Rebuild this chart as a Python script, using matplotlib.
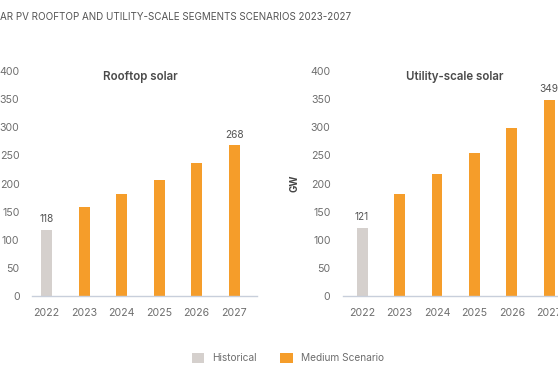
import matplotlib
matplotlib.use("Agg")
import matplotlib.pyplot as plt
from matplotlib.patches import Patch

plt.rcParams['font.family'] = ['Inter', 'DejaVu Sans']

years = ['2022', '2023', '2024', '2025', '2026', '2027']
rooftop = [118, 159, 182, 207, 236, 268]
utility = [121, 181, 217, 255, 299, 349]
kinds = ['Historical', 'Medium Scenario', 'Medium Scenario', 'Medium Scenario',
         'Medium Scenario', 'Medium Scenario']
labelled = [0, 5]  # bars that carry a value label

colors = {'Historical': '#d5d0cd', 'Medium Scenario': '#f59d2a'}
tick_color = '#6e6e6e'

fig = plt.figure(figsize=(5.58, 3.73), dpi=100)
fig.patch.set_facecolor('white')

ax1 = fig.add_axes([32 / 558, 77 / 373, 225 / 558, 225 / 373])
ax2 = fig.add_axes([343 / 558, 77 / 373, 225 / 558, 225 / 373])


def draw(ax, values, xlim):
    x = list(range(len(years)))
    ax.bar(x, values, width=0.29, color=[colors[k] for k in kinds], zorder=2)
    for i in labelled:
        ax.text(x[i], values[i] + 10, str(values[i]), ha='center', va='bottom',
                fontsize=7.3, color='#555555')
    ax.set_ylim(0, 400)
    ax.set_xlim(*xlim)
    ax.set_yticks(range(0, 401, 50))
    ax.set_xticks(x)
    ax.set_xticklabels(years)
    ax.tick_params(length=0, labelsize=7.6, colors=tick_color)
    ax.tick_params(axis='x', pad=8.5)
    ax.tick_params(axis='y', pad=9)
    for s in ['top', 'right', 'left']:
        ax.spines[s].set_visible(False)
    ax.spines['bottom'].set_color('#c8cfdb')
    ax.spines['bottom'].set_linewidth(1)


draw(ax1, rooftop, (-0.39, 5.61))
draw(ax2, utility, (-0.51, 5.5))

fig.text(140 / 558, 1 - 77 / 373, 'Rooftop solar', ha='center', va='center',
         fontsize=8.3, fontweight='semibold', color='#4a4a4a')
fig.text(455 / 558, 1 - 77 / 373, 'Utility-scale solar', ha='center', va='center',
         fontsize=8.3, fontweight='semibold', color='#4a4a4a')
fig.text(295 / 558, 1 - 183 / 373, 'GW', ha='center', va='center', rotation=90,
         fontsize=7, fontweight='bold', color='#444444')

fig.text(0, 1 - 17 / 373, 'AR PV ROOFTOP AND UTILITY-SCALE SEGMENTS SCENARIOS 2023-2027',
         ha='left', va='center', fontsize=7.1, color='#555555')

handles = [Patch(facecolor=colors[k], edgecolor='none', label=k)
           for k in ['Historical', 'Medium Scenario']]
fig.legend(handles=handles, loc='center', bbox_to_anchor=(288 / 558, 15 / 373),
           ncol=2, frameon=False, fontsize=7.3, handlelength=1.2, handleheight=1.2,
           handletextpad=0.8, columnspacing=2.3, labelcolor=tick_color)

fig.savefig('out.png', dpi=100, facecolor='white')
